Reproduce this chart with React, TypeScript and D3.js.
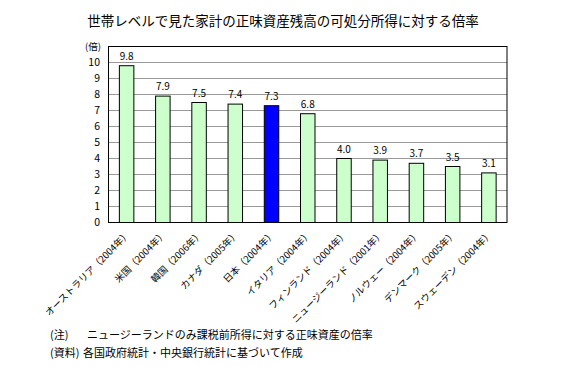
import React from 'react';
import * as d3 from 'd3';

const countries: string[] = [
    'オーストラリア（2004年）',
    '米国（2004年）',
    '韓国（2006年）',
    'カナダ（2005年）',
    '日本（2004年）',
    'イタリア（2004年）',
    'フィンランド（2004年）',
    'ニュージーランド（2001年）',
    'ノルウェー（2004年）',
    'デンマーク（2005年）',
    'スウェーデン（2004年）',
];
const ratios: number[] = [9.8, 7.9, 7.5, 7.4, 7.3, 6.8, 4.0, 3.9, 3.7, 3.5, 3.1];
const yTicks: number[] = [0, 1, 2, 3, 4, 5, 6, 7, 8, 9, 10];
const highlight = '日本（2004年）';

const title = '世帯レベルで見た家計の正味資産残高の可処分所得に対する倍率';
const notes: [string, string][] = [
    ['(注)', 'ニュージーランドのみ課税前所得に対する正味資産の倍率'],
    ['(資料)', '各国政府統計・中央銀行統計に基づいて作成'],
];

const width = 575;
const height = 366;
const margin = { top: 46.5, right: 68, bottom: 143.5, left: 108.5 };
const font = '"Noto Sans CJK JP", "Noto Sans", sans-serif';

function BarChart() {
    const x = d3.scaleBand<string>()
        .domain(countries)
        .range([margin.left, width - margin.right])
        .paddingInner(0.6)
        .paddingOuter(0.3);

    const y = d3.scaleLinear()
        .domain([0, 11])
        .range([height - margin.bottom, margin.top]);

    const data = countries.map((name, i) => ({ name, value: ratios[i] }));

    return (
        <svg width={width} height={height} style={{ display: 'block' }} fontFamily={font}>
            <rect x={0} y={0} width={width} height={height} fill="#fff" />
            <text x={283} y={26} textAnchor="middle" fontSize={13.5} fill="#000">{title}</text>

            {/* grid */}
            {yTicks.filter(t => t > 0).map(t => (
                <line key={t} x1={margin.left} x2={width - margin.right} y1={y(t)} y2={y(t)}
                    stroke="#999" strokeWidth={1} />
            ))}

            {/* y labels */}
            <text x={101} y={50} textAnchor="end" fontSize={9.5}>(倍)</text>
            {yTicks.map(t => (
                <text key={t} x={100} y={y(t)} dy="0.35em" textAnchor="end" fontSize={10.5}>{t}</text>
            ))}

            {/* bars */}
            {data.map(d => (
                <g key={d.name}>
                    <rect x={x(d.name)} y={y(d.value)} width={x.bandwidth()} height={y(0) - y(d.value)}
                        fill={d.name === highlight ? '#0000ff' : '#ccffcc'} stroke="#000" strokeWidth={1} />
                    <text x={(x(d.name) as number) + x.bandwidth() / 2} y={y(d.value) - 6}
                        textAnchor="middle" fontSize={10}>{d.value.toFixed(1)}</text>
                </g>
            ))}

            {/* frame */}
            <rect x={margin.left} y={margin.top} width={width - margin.right - margin.left}
                height={y(0) - margin.top} fill="none" stroke="#000" strokeWidth={1} />

            {/* x labels */}
            {countries.map(c => {
                const cx = (x(c) as number) + x.bandwidth() / 2 + 2;
                const cy = y(0) + 10;
                return (
                    <text key={c} transform={`translate(${cx},${cy}) rotate(-45)`} textAnchor="end"
                        dy="0.35em" fontSize={9.5}>{c}</text>
                );
            })}

            {/* notes */}
            {notes.map((n, i) => (
                <g key={i} fontSize={11}>
                    <text x={50} y={339 + i * 18}>{n[0]}</text>
                    <text x={i === 0 ? 87 : 83} y={339 + i * 18}>{n[1]}</text>
                </g>
            ))}
        </svg>
    );
}

export default function App() {
    return (
        <div style={{ position: 'fixed', left: 0, top: 0 }}>
            <BarChart />
        </div>
    );
}
